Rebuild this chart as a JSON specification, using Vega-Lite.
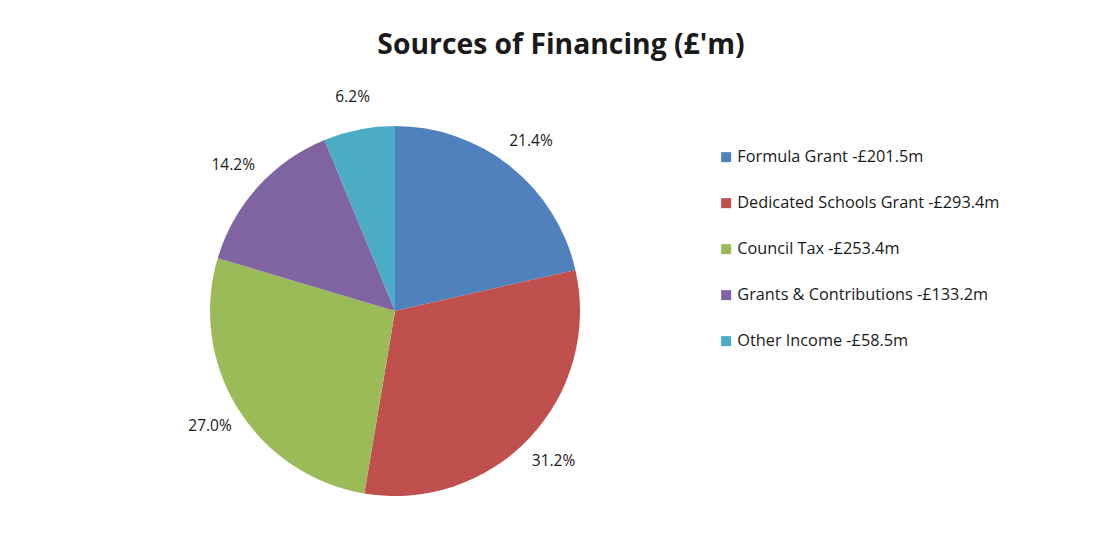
{
  "$schema": "https://vega.github.io/schema/vega-lite/v6.json",
  "autosize": "none",
  "width": 370,
  "height": 370,
  "padding": {"left": 210, "top": 126, "right": 538, "bottom": 58},
  "background": "white",
  "title": {
    "text": "Sources of Financing (£'m)",
    "font": "Open Sans",
    "fontSize": 28.3,
    "fontWeight": "bold",
    "color": "#1a1a1a",
    "anchor": "middle",
    "dx": 166,
    "offset": 30
  },
  "config": {"view": {"stroke": null}},
  "data": {
    "values": [
      {"source": "Formula Grant -£201.5m", "value": 201.5, "pct": "21.4%", "order": 1},
      {"source": "Dedicated Schools Grant -£293.4m", "value": 293.4, "pct": "31.2%", "order": 2},
      {"source": "Council Tax -£253.4m", "value": 253.4, "pct": "27.0%", "order": 3},
      {"source": "Grants & Contributions -£133.2m", "value": 133.2, "pct": "14.2%", "order": 4},
      {"source": "Other Income -£58.5m", "value": 58.5, "pct": "6.2%", "order": 5}
    ]
  },
  "encoding": {
    "theta": {"field": "value", "type": "quantitative", "stack": true},
    "order": {"field": "order", "type": "quantitative"}
  },
  "layer": [
    {
      "mark": {"type": "arc", "radius": 185},
      "encoding": {
        "color": {
          "field": "source",
          "type": "nominal",
          "sort": {"field": "order"},
          "scale": {
            "domain": ["Formula Grant -£201.5m", "Dedicated Schools Grant -£293.4m", "Council Tax -£253.4m", "Grants & Contributions -£133.2m", "Other Income -£58.5m"],
            "range": ["#4F81BD", "#C0504D", "#9BBB59", "#8064A2", "#4BACC6"]
          },
          "legend": {
            "title": null,
            "orient": "none",
            "legendX": 508,
            "legendY": 23,
            "symbolType": "square",
            "symbolSize": 100,
            "symbolStrokeWidth": 0,
            "labelFont": "Open Sans",
            "labelFontSize": 16.3,
            "labelColor": "#1a1a1a",
            "labelLimit": 400,
            "labelOffset": 3,
            "rowPadding": 29
          }
        }
      }
    },
    {
      "mark": {"type": "text", "radius": 218, "font": "Open Sans", "fontSize": 15.5, "color": "#1a1a1a"},
      "encoding": {"text": {"field": "pct", "type": "nominal"}}
    }
  ]
}
